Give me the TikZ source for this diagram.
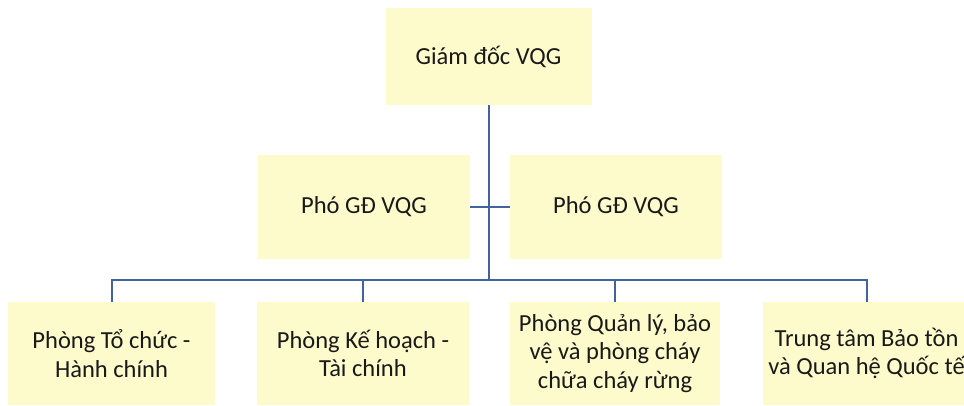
\documentclass[tikz,border=0pt]{standalone}
\usepackage{fontspec}
\setmainfont{Carlito}
\definecolor{boxfill}{RGB}{253,250,204}
\definecolor{linkblue}{RGB}{66,100,158}
\begin{document}
\begin{tikzpicture}[x=1pt,y=-1pt,
  unit/.style={fill=boxfill, draw=none, inner sep=0pt, align=center,
    font=\fontsize{24.5}{28.5}\selectfont, text=black!90},
  conn/.style={draw=linkblue, line width=2pt}]
\useasboundingbox (0,0) rectangle (964,405);
\clip (0,0) rectangle (964,405);
\fill[white] (0,0) rectangle (964,405);
% director
\node[unit, minimum width=206pt, minimum height=97pt] (top) at (488.5,56.5) {Giám đốc VQG};
% deputies
\node[unit, minimum width=212pt, minimum height=104pt] (p1) at (364,207) {Phó GĐ VQG};
\node[unit, minimum width=212pt, minimum height=104pt] (p2) at (616,207) {Phó GĐ VQG};
% departments
\node[unit, minimum width=207pt, minimum height=103pt] (b1) at (111.5,353.5) {Phòng Tổ chức -\\Hành chính};
\node[unit, minimum width=212pt, minimum height=103pt] (b2) at (363,353.5) {Phòng Kế hoạch -\\Tài chính};
\node[unit, minimum width=210pt, minimum height=103pt] (b3) at (615,353.5) {Phòng Quản lý, bảo\\vệ và phòng cháy\\chữa cháy rừng};
\node[unit, minimum width=207pt, minimum height=103pt] (b4) at (866.5,353.5) {Trung tâm Bảo tồn\\và Quan hệ Quốc tế};
% connectors
\coordinate (bus) at (488.5,280);
\draw[conn] (top.south) -- (bus);
\draw[conn] (p1.east) -- (p2.west);
\draw[conn] (b1.north) |- (bus) -| (b4.north);
\draw[conn] (b2.north) -- (b2.north |- bus);
\draw[conn] (b3.north) -- (b3.north |- bus);
\end{tikzpicture}
\end{document}
